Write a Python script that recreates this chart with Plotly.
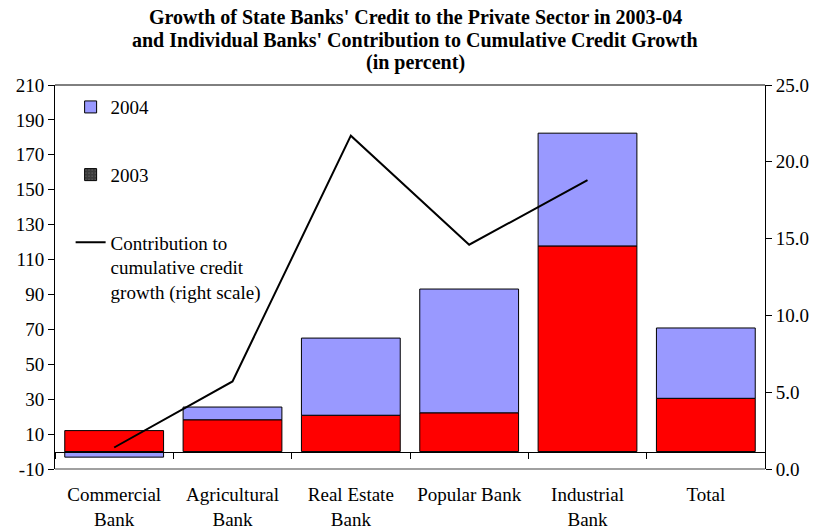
import plotly.graph_objects as go

# Credit growth by state bank (percent); 2004 stacked on top of 2003
banks = ["Commercial<br>Bank", "Agricultural<br>Bank", "Real Estate<br>Bank",
         "Popular Bank", "Industrial<br>Bank", "Total"]
growth_2003 = [12.0, 18.2, 20.8, 22.2, 117.8, 30.5]
growth_2004 = [-3.2, 7.3, 44.2, 70.9, 64.6, 40.3]
# Contribution to cumulative credit growth (right scale)
contribution = [1.4, 5.7, 21.7, 14.6, 18.8, None]

left_ticks = list(range(-10, 211, 20))
right_ticks = [0, 5, 10, 15, 20, 25]

FONT = "Liberation Serif, Times New Roman, serif"
RED = "#FF0000"
BLUE = "#9999FF"

fig = go.Figure()

fig.add_trace(go.Bar(
    x=banks, y=growth_2003, name="2003", showlegend=False,
    marker=dict(color=RED, line=dict(color="black", width=1)),
    legendgroup="a",
))
fig.add_trace(go.Bar(
    x=banks, y=growth_2004, name="2004",
    marker=dict(color=BLUE, line=dict(color="black", width=1)),
    legendgroup="b",
))
# legend key for 2003 (dotted dark swatch)
fig.add_trace(go.Bar(
    x=[None], y=[None], name="2003",
    marker=dict(color="#3a3a3a", line=dict(color="black", width=1),
                pattern=dict(shape=".", fgcolor="#9a9a9a", size=4, solidity=0.15)),
    legendgroup="c",
))
fig.add_trace(go.Scatter(
    x=banks, y=contribution, yaxis="y2", mode="lines",
    name="Contribution to<br>cumulative credit<br>growth (right scale)",
    line=dict(color="black", width=2),
    legendgroup="d",
))

tick_font = dict(family=FONT, size=19, color="black")

fig.update_layout(
    width=821, height=531,
    margin=dict(l=55, r=56, t=85, b=62, autoexpand=False),
    paper_bgcolor="white", plot_bgcolor="white",
    barmode="relative", bargap=0.165,
    font=dict(family=FONT, size=19, color="black"),
    showlegend=True,
    legend=dict(
        x=0.022, y=0.992, xanchor="left", yanchor="top",
        bgcolor="rgba(0,0,0,0)", font=dict(family=FONT, size=19, color="black"),
        traceorder="grouped", tracegroupgap=40, valign="top",
        itemwidth=30,
    ),
    xaxis=dict(
        type="category", anchor="free", position=10 / 220, automargin=False,
        showline=True, linecolor="black", linewidth=1,
        ticks="outside", tickson="boundaries", ticklen=6, tickcolor="black",
        ticklabelstandoff=26, tickfont=tick_font, showgrid=False,
    ),
    yaxis=dict(
        range=[-10, 210], tickvals=left_ticks, ticktext=[str(v) for v in left_ticks],
        showline=True, linecolor="black", linewidth=1, automargin=False,
        ticks="outside", ticklen=6, tickcolor="black",
        tickfont=tick_font, showgrid=False, zeroline=False,
    ),
    yaxis2=dict(
        overlaying="y", side="right", anchor="free", position=1, automargin=False,
        range=[0, 25], tickvals=right_ticks, ticktext=[f"{v:.1f}" for v in right_ticks],
        showline=True, linecolor="black", linewidth=1,
        ticks="outside", ticklen=6, tickcolor="black",
        tickfont=tick_font, showgrid=False, zeroline=False,
    ),
    yaxis3=dict(
        overlaying="y", side="right", anchor="free", position=1, automargin=False,
        range=[0, 25], tickvals=right_ticks,
        showline=False, ticks="inside", ticklen=6, tickcolor="black",
        showticklabels=False, showgrid=False, zeroline=False,
    ),
    shapes=[
        dict(type="line", xref="paper", yref="paper", x0=0, x1=1, y0=1, y1=1,
             line=dict(color="black", width=1)),
        dict(type="line", xref="paper", yref="paper", x0=0, x1=1, y0=0, y1=0,
             line=dict(color="#808080", width=1.5)),
    ],
)

title_lines = [
    ("Growth of State Banks' Credit to the Private Sector in 2003-04", 17),
    ("and Individual Banks' Contribution to Cumulative Credit Growth", 40),
    ("(in percent)", 63),
]
for text, py in title_lines:
    fig.add_annotation(
        text=f"<b>{text}</b>", xref="paper", yref="paper",
        x=(415 - 55) / 710, y=(469 - py) / 384, xanchor="center", yanchor="middle",
        showarrow=False, font=dict(family=FONT, size=20, color="black"),
    )

fig.write_html("out.html")
